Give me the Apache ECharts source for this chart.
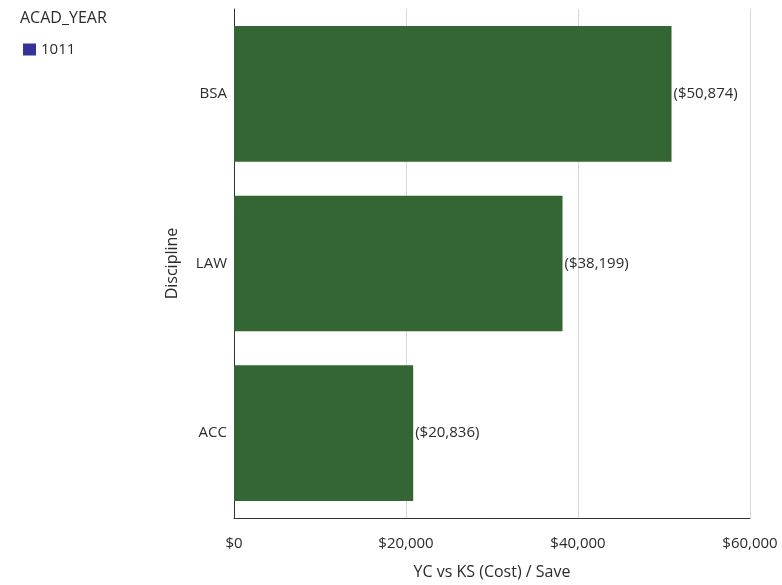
<!DOCTYPE html>
<html><head><meta charset="utf-8">
<script src="https://cdn.jsdelivr.net/npm/echarts@6/dist/echarts.min.js"></script>
<style>html,body{margin:0;padding:0;background:#fff}#c{width:782px;height:585px}</style>
</head><body><div id="c"></div>
<script>
var categories = ['BSA', 'LAW', 'ACC'];
var values = [50874, 38199, 20836];
var seriesName = '1011';
var legendTitle = 'ACAD_YEAR';
var xTicks = [0, 20000, 40000, 60000];

function money(v){ return '$' + v.toLocaleString('en-US'); }
var FONT = '"Open Sans", "DejaVu Sans", sans-serif';
var TXT = '#2b2b2b';
var chart = echarts.init(document.getElementById('c'));
chart.setOption({
  animation: false,
  title: { text: legendTitle, left: 15, top: 5, textStyle: { fontFamily: FONT, fontSize: 16, fontWeight: 'normal', color: TXT } },
  legend: {
    left: 18, top: 37, itemWidth: 13, itemHeight: 12, itemGap: 6,
    textStyle: { fontFamily: FONT, fontSize: 15, color: TXT, padding: [0, 0, 0, 0] },
    data: [{ name: seriesName, icon: 'rect', itemStyle: { color: '#333399' } }]
  },
  grid: { left: 234, right: 32, top: 9, bottom: 63 },
  xAxis: {
    type: 'value', min: xTicks[0], max: xTicks[xTicks.length-1], interval: 20000,
    name: 'YC vs KS (Cost) / Save', nameLocation: 'middle', nameGap: 46,
    nameTextStyle: { fontFamily: FONT, fontSize: 16, color: TXT },
    axisLine: { show: true, lineStyle: { color: '#333', width: 1 } },
    axisTick: { show: false },
    axisLabel: { margin: 18, fontFamily: FONT, fontSize: 15, color: TXT, formatter: money },
    splitLine: { show: true, lineStyle: { color: '#d8d8d8' } }
  },
  yAxis: {
    type: 'category', data: categories, inverse: true,
    name: 'Discipline', nameLocation: 'middle', nameGap: 54, nameRotate: 90,
    nameTextStyle: { fontFamily: FONT, fontSize: 16, color: TXT },
    axisLine: { show: true, lineStyle: { color: '#333', width: 1 } },
    axisTick: { show: false },
    axisLabel: { margin: 7, fontFamily: FONT, fontSize: 15, color: TXT }
  },
  series: [{
    name: seriesName, type: 'bar', data: values, barCategoryGap: '20%',
    itemStyle: { color: '#336633' },
    label: { show: true, position: 'right', distance: 2, fontFamily: FONT, fontSize: 15, color: TXT,
      formatter: function(p){ return '(' + money(p.value) + ')'; } }
  }]
});
</script></body></html>
